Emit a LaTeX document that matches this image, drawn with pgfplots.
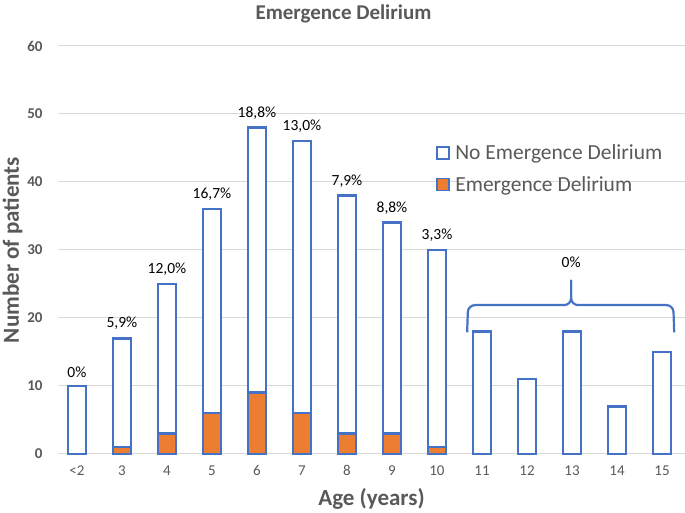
\documentclass[border=0pt]{standalone}
\usepackage{fontspec}
\setmainfont{Carlito}
\usepackage{pgfplots}
\pgfplotsset{compat=1.18}

\definecolor{barblue}{HTML}{4472C4}
\definecolor{barorange}{HTML}{ED7D31}
\definecolor{txtgray}{HTML}{595959}
\definecolor{gridgray}{HTML}{D9D9D9}

\begin{document}
\begin{tikzpicture}[pct/.style={font=\fontsize{15.5}{17}\selectfont, text=black, anchor=south, yshift=5pt}]
\begin{axis}[
    at={(0,0)}, anchor=south west,
    scale only axis,
    width=627pt, height=408pt,
    ybar stacked,
    bar width=18pt,
    xmin=-0.42, xmax=13.51,
    ymin=0, ymax=60,
    ytick={0,10,...,60},
    xtick={0,...,13},
    xticklabels={<2,3,4,5,6,7,8,9,10,11,12,13,14,15},
    /pgf/number format/assume math mode=true,
    ymajorgrids,
    grid style={gridgray, line width=1pt},
    axis line style={draw=none},
    major tick style={draw=none},
    ticklabel style={text=txtgray},
    yticklabel style={font=\fontsize{15}{17}\selectfont\bfseries, xshift=-12pt},
    xticklabel style={font=\fontsize{15}{17}\selectfont, yshift=-8pt},
    title={Emergence Delirium},
    title style={font=\fontsize{21}{24}\selectfont\bfseries, text=txtgray, yshift=13pt, xshift=-28pt},
    xlabel={Age (years)},
    xlabel style={font=\fontsize{23}{26}\selectfont\bfseries, text=txtgray, yshift=-6pt},
    ylabel={Number of patients},
    ylabel style={font=\fontsize{23}{26}\selectfont\bfseries, text=txtgray, yshift=-2pt},
    legend style={at={(0.598,0.768)}, anchor=north west, draw=none, fill=none,
        font=\fontsize{21.5}{24}\selectfont, text=txtgray, row sep=11pt,
        cells={anchor=west}},
    reverse legend,
    clip=false,
]
\addplot[draw=barblue, fill=barorange, line width=2.6pt,
    legend image code/.code={\draw[draw=barblue, fill=barorange, line width=1.8pt] (0pt,-6pt) rectangle (12pt,6pt);
        \path (15pt,0pt);}]
coordinates {(0,0) (1,1) (2,3) (3,6) (4,9) (5,6) (6,3) (7,3) (8,1)
             (9,0) (10,0) (11,0) (12,0) (13,0)};
\addlegendentry{Emergence Delirium}
\addplot[draw=barblue, fill=white, line width=2.6pt,
    legend image code/.code={\draw[draw=barblue, fill=white, line width=1.8pt] (0pt,-6pt) rectangle (12pt,6pt);
        \path (15pt,0pt);}]
coordinates {(0,10) (1,16) (2,22) (3,30) (4,39) (5,40) (6,35) (7,31)
             (8,29) (9,18) (10,11) (11,18) (12,7) (13,15)};
\addlegendentry{No Emergence Delirium}
% share of emergence delirium above each bar (at the bar's total height)
\node[pct] at (axis cs:0,10) {0\%};
\node[pct] at (axis cs:1,17) {5,9\%};
\node[pct] at (axis cs:2,25) {12,0\%};
\node[pct] at (axis cs:3,36) {16,7\%};
\node[pct] at (axis cs:4,48) {18,8\%};
\node[pct] at (axis cs:5,46) {13,0\%};
\node[pct] at (axis cs:6,38) {7,9\%};
\node[pct] at (axis cs:7,34) {8,8\%};
\node[pct] at (axis cs:8,30) {3,3\%};
% brace over ages 11-15
\draw[barblue, line width=2.2pt, rounded corners=7pt]
    (axis cs:8.67,17.9) -- (axis cs:8.69,21.9) -- (axis cs:10.98,21.9) -- (axis cs:10.98,25.6);
\draw[barblue, line width=2.2pt, rounded corners=7pt]
    (axis cs:10.98,25.6) -- (axis cs:10.98,21.9) -- (axis cs:13.25,21.9) -- (axis cs:13.27,17.9);
\node[font=\fontsize{15.5}{17}\selectfont, text=black] at (axis cs:10.98,28.2) {0\%};
\end{axis}
\pgfresetboundingbox
\useasboundingbox (-58pt,-59pt) rectangle (627pt,454pt);
\end{tikzpicture}
\end{document}
